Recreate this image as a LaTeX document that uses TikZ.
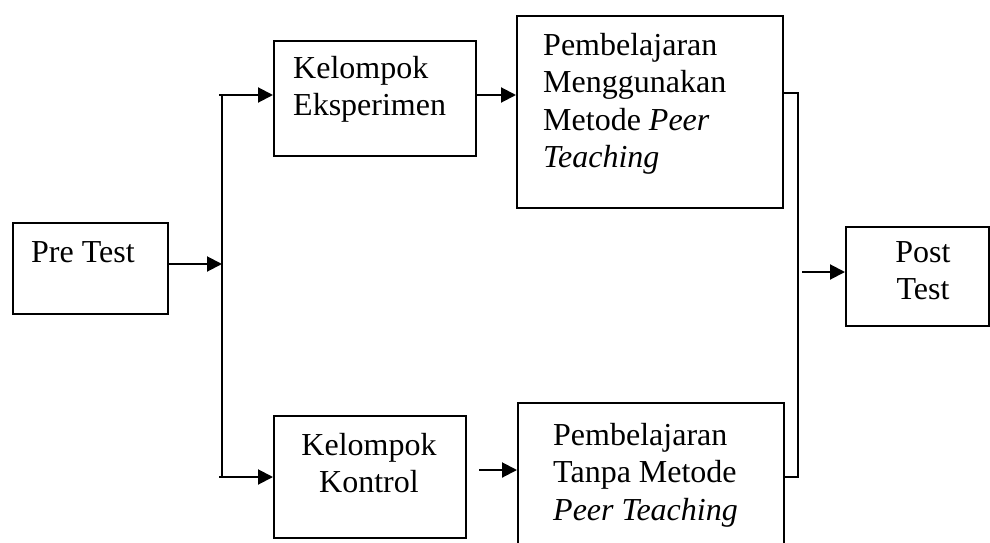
\documentclass[tikz,border=0pt]{standalone}
\usepackage{fontspec}
\setmainfont{Liberation Serif}
\usetikzlibrary{positioning,arrows.meta}
\newcommand{\diagfont}{\fontsize{32}{37.5}\selectfont}

\begin{document}
\begin{tikzpicture}[
  x=1pt, y=-1pt,
  box/.style={draw, line width=2pt, anchor=north west, inner sep=0pt},
  txt/.style={font=\diagfont, inner sep=0pt, align=left},
  ctxt/.style={font=\diagfont, inner sep=0pt, align=center, anchor=north},
  line/.style={line width=2pt},
  arr/.style={-{Triangle[length=15pt,width=15pt]}, line width=2pt}
]
\useasboundingbox (0,0) rectangle (990,543);

\node[box, minimum width=155pt, minimum height=91pt] (pre) at (12,222) {};
\node[box, minimum width=202pt, minimum height=115pt] (eksp) at (273,40) {};
\node[box, minimum width=266pt, minimum height=192pt] (ajar1) at (516,15) {};
\node[box, minimum width=192pt, minimum height=122pt] (kontrol) at (273,415) {};
\node[box, minimum width=266pt, minimum height=146pt] (ajar2) at (517,402) {};
\node[box, minimum width=143pt, minimum height=99pt] (post) at (845,226) {};

\node[txt, anchor=base west] (pretxt) at (31,262) {Pre Test};
\node[txt, anchor=north west] (eksptxt) at (293,56) {Kelompok\\Eksperimen};
\node[txt, anchor=north west] (ajar1txt) at (543,33) {Pembelajaran\\Menggunakan\\Metode \textit{Peer}\\\textit{Teaching}};
\node[ctxt] (kontroltxt) at (369,433) {Kelompok\\Kontrol};
\node[txt, anchor=north west] (ajar2txt) at (553,423) {Pembelajaran\\Tanpa Metode\\\textit{Peer Teaching}};
\node[ctxt] (posttxt) at (923,241) {Post\\Test};

\coordinate (split) at (222,95);
\coordinate (splitend) at (222,478);
\coordinate (join) at (798,93);
\coordinate (joinend) at (798,477);
\coordinate (postin) at (802,272);

\draw[arr] (pre.east |- 0,264) -- (split |- 0,264);
\draw[line] (split) -- (splitend);
\draw[arr] ([xshift=-3pt]split) -- (split -| eksp.west);
\draw[arr] ([xshift=-3pt]splitend |- kontrol.west) -- (kontrol.west);
\draw[arr] (eksp.east |- split) -- (split -| ajar1.west);
\draw[arr] ([xshift=12pt,yshift=7pt]kontrol.east) -- ([yshift=7pt]kontrol.east -| ajar2.west);
\draw[line] (ajar1.east |- join) -- (join) -- (joinend) -- (ajar2.east |- joinend);
\draw[arr] (postin) -- (postin -| post.west);
\end{tikzpicture}
\end{document}
